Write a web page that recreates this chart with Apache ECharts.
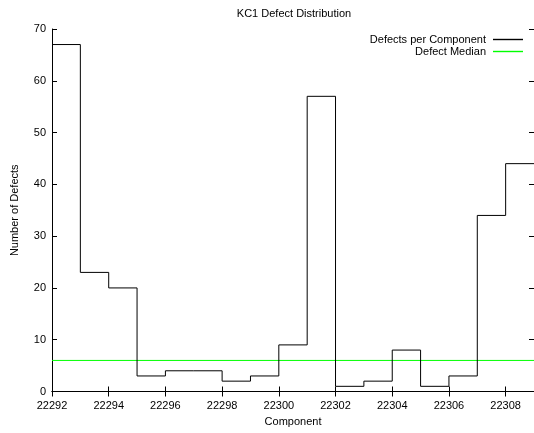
<!DOCTYPE html>
<html>
<head>
    <meta charset="utf-8">
    <title>KC1 Defect Distribution</title>
    <script src="https://cdn.jsdelivr.net/npm/echarts@6/dist/echarts.min.js"></script>
    <style>
        html, body { margin: 0; padding: 0; background: #fff; }
        #main { width: 534px; height: 433px; }
    </style>
</head>
<body>
<div id="main"></div>
<script>
    // component ids and defect counts (steps plot, last step runs off the right edge)
    var components = [22292, 22293, 22294, 22295, 22296, 22297, 22298, 22299, 22300,
                      22301, 22302, 22303, 22304, 22305, 22306, 22307, 22308, 22309];
    var defects = [67, 23, 20, 3, 4, 4, 2, 3, 9, 57, 1, 2, 8, 1, 3, 34, 44, 44];
    var medianValue = 6;
    var yTicks = [0, 10, 20, 30, 40, 50, 60, 70];

    var font = 'Liberation Sans, Arial, Helvetica, sans-serif';

    var stepData = components.map(function (c, i) { return [c, defects[i]]; });
    var medianData = [[components[0], medianValue], [components[components.length - 1], medianValue]];

    var chart = echarts.init(document.getElementById('main'));

    var tickStyle = { show: true, inside: true, length: 5, lineStyle: { color: '#000', width: 1 } };
    var lineStyle = { show: true, lineStyle: { color: '#000', width: 1 } };

    // thin line as legend key, like gnuplot
    var keyIcon = 'path://M0,0L30,0L30,1.4L0,1.4Z';

    var option = {
        animation: false,
        backgroundColor: '#fff',
        title: {
            text: 'KC1 Defect Distribution',
            left: 289,
            top: 3,
            textAlign: 'center',
            textStyle: { fontFamily: font, fontSize: 11, fontWeight: 'normal', color: '#000' }
        },
        legend: [{
            data: ['Defects per Component'],
            right: 11, top: 34, padding: 0,
            align: 'right',
            icon: keyIcon,
            itemWidth: 30, itemHeight: 1.4,
            textStyle: { fontFamily: font, fontSize: 11, color: '#000', padding: [0, 2, 0, 0] }
        }, {
            data: ['Defect Median'],
            right: 11, top: 46, padding: 0,
            align: 'right',
            icon: keyIcon,
            itemWidth: 30, itemHeight: 1.4,
            textStyle: { fontFamily: font, fontSize: 11, color: '#000', padding: [0, 2, 0, 0] }
        }],
        grid: { left: 52, top: 29, width: 484, bottom: 41.5 },
        xAxis: [{
            type: 'value',
            min: components[0],
            max: components[components.length - 1],
            interval: 2,
            name: 'Component',
            nameLocation: 'middle',
            nameGap: 25,
            nameTextStyle: { fontFamily: font, fontSize: 11, color: '#000' },
            axisLine: lineStyle,
            axisTick: tickStyle,
            splitLine: { show: false },
            axisLabel: {
                showMaxLabel: false,
                margin: 9,
                fontFamily: font, fontSize: 11, color: '#000',
                formatter: function (v) { return String(v); }
            }
        }, {
            type: 'value',
            position: 'top',
            min: components[0],
            max: components[components.length - 1],
            interval: 2,
            axisLine: lineStyle,
            axisTick: tickStyle,
            axisLabel: { show: false },
            splitLine: { show: false }
        }],
        yAxis: [{
            type: 'value',
            min: yTicks[0],
            max: yTicks[yTicks.length - 1],
            interval: 10,
            name: 'Number of Defects',
            nameLocation: 'middle',
            nameGap: 32,
            nameTextStyle: { fontFamily: font, fontSize: 11, color: '#000' },
            axisLine: lineStyle,
            axisTick: tickStyle,
            splitLine: { show: false },
            axisLabel: { margin: 6, fontFamily: font, fontSize: 11, color: '#000' }
        }, {
            type: 'value',
            position: 'right',
            min: yTicks[0],
            max: yTicks[yTicks.length - 1],
            interval: 10,
            axisLine: lineStyle,
            axisTick: tickStyle,
            axisLabel: { show: false },
            splitLine: { show: false }
        }],
        series: [{
            name: 'Defects per Component',
            type: 'line',
            step: 'end',
            symbol: 'none',
            color: '#000',
            lineStyle: { color: '#000', width: 1 },
            data: stepData,
            z: 3
        }, {
            name: 'Defect Median',
            type: 'line',
            symbol: 'none',
            color: '#00ff00',
            lineStyle: { color: '#00ff00', width: 1 },
            data: medianData,
            z: 2
        }]
    };

    chart.setOption(option);
</script>
</body>
</html>
